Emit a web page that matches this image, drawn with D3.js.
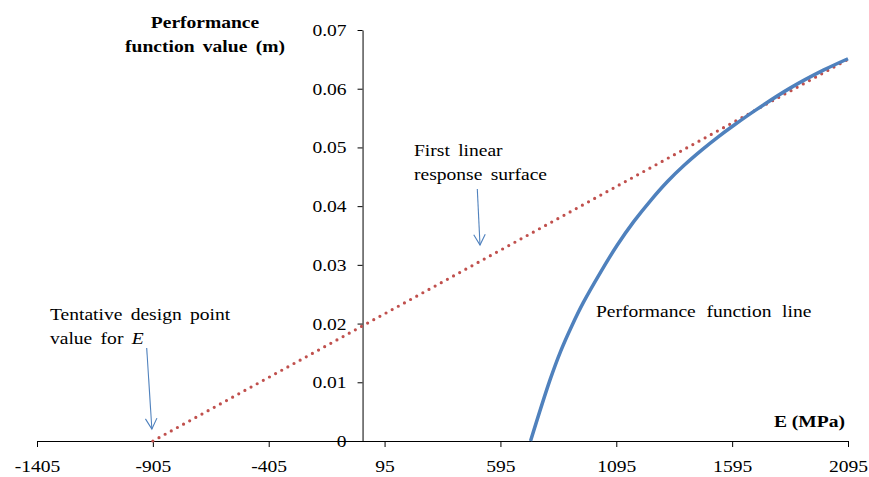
<!DOCTYPE html>
<html>
<head>
<meta charset="utf-8">
<script src="https://cdn.jsdelivr.net/npm/d3@7/dist/d3.min.js"></script>
<style>
  html, body { margin: 0; padding: 0; background: #fff; }
</style>
</head>
<body>
<svg id="chart" width="869" height="477"></svg>
<script>
// Tick values for both axes
const xTicks = [-1405, -905, -405, 95, 595, 1095, 1595, 2095];
const yTicks = [0, 0.01, 0.02, 0.03, 0.04, 0.05, 0.06, 0.07];

// Performance function g(E)
const perfE = [725, 809, 856, 903, 953, 1025, 1098, 1171, 1244, 1316, 1389, 1462, 1535, 1607, 1698, 1845, 1991, 2095];
const perfG = [0, 0.0104, 0.0154, 0.0196, 0.0236, 0.0286, 0.0333, 0.0374, 0.0410, 0.0442, 0.0470, 0.0495, 0.0518, 0.0539, 0.0564, 0.0601, 0.0632, 0.0651];

// First linear response surface
const linE = [-905, 2095];
const linG = [0, 0.065];

const FONT = "Liberation Serif";
const SX = 1.15; // horizontal text stretch

const svg = d3.select("#chart");
const x = d3.scaleLinear().domain([-1405, 2095]).range([37, 848]);
const y = d3.scaleLinear().domain([0, 0.07]).range([441, 30]);

// Axes
const xAxis = d3.axisBottom(x).tickValues(xTicks).tickSize(6).tickSizeOuter(0).tickPadding(13)
  .tickFormat(d => String(d));
const gx = svg.append("g").attr("transform", `translate(0,${y(0)})`).call(xAxis);
gx.attr("font-family", FONT).attr("font-size", 17);
gx.select(".domain").attr("stroke", "#000");
gx.selectAll(".tick text").attr("transform", `scale(${SX},1)`);

const yAxis = d3.axisLeft(y).tickValues(yTicks).tickSize(5).tickSizeOuter(0).tickPadding(11)
  .tickFormat(d => d === 0 ? "0" : d3.format(".2f")(d));
const gy = svg.append("g").attr("transform", `translate(${x(0)},0)`).call(yAxis);
gy.attr("font-family", FONT).attr("font-size", 17);
gy.select(".domain").attr("stroke", "#000");
gy.selectAll(".tick text").attr("x", -16 / SX).attr("transform", `scale(${SX},1)`);

// Series
svg.append("path")
  .datum(linE.map((e, i) => [e, linG[i]]))
  .attr("d", d3.line().x(d => x(d[0])).y(d => y(d[1])))
  .attr("fill", "none")
  .attr("stroke", "#C0504D")
  .attr("stroke-width", 3.2)
  .attr("stroke-linecap", "round")
  .attr("stroke-dasharray", "0 7");

svg.append("path")
  .datum(perfE.map((e, i) => [e, perfG[i]]))
  .attr("d", d3.line().x(d => x(d[0])).y(d => y(d[1])).curve(d3.curveCatmullRom.alpha(0.5)))
  .attr("fill", "none")
  .attr("stroke", "#4F81BD")
  .attr("stroke-width", 3.5);

// Text helper: stretched serif text anchored at (tx, ty)
function label(tx, ty, str, opts = {}) {
  const t = svg.append("text")
    .attr("transform", `translate(${tx},${ty}) scale(${SX},1)`)
    .attr("font-family", FONT)
    .attr("font-size", opts.size || 17)
    .attr("font-weight", opts.bold ? "bold" : "normal")
    .attr("text-anchor", opts.anchor || "start")
    .attr("word-spacing", opts.ws || 0)
    .attr("fill", "#000");
  return t.text(str);
}

// Axis titles
label(205, 28, "Performance", { bold: true, anchor: "middle" });
label(205, 52, "function value (m)", { bold: true, anchor: "middle", ws: 3 });
label(845, 427, "E (MPa)", { bold: true, anchor: "end" });

// Annotations
label(414, 156, "First linear", { ws: 3 });
label(414, 180, "response surface", { ws: 3 });
label(50, 320, "Tentative design point", { ws: 3 });
const v = label(50, 344, "value for ", { ws: 3 });
v.append("tspan").attr("font-style", "italic").text("E");
label(596, 317, "Performance function line", { ws: 5 });

// Annotation arrows
function arrow(x1, y1, x2, y2) {
  const g = svg.append("g").attr("stroke", "#4F81BD").attr("stroke-width", 1.1).attr("fill", "none");
  g.append("line").attr("x1", x1).attr("y1", y1).attr("x2", x2).attr("y2", y2);
  const ang = Math.atan2(y2 - y1, x2 - x1);
  const len = 12, spread = 0.5;
  const p1 = [x2 - len * Math.cos(ang - spread), y2 - len * Math.sin(ang - spread)];
  const p2 = [x2 - len * Math.cos(ang + spread), y2 - len * Math.sin(ang + spread)];
  g.append("path").attr("d", `M${p1[0]},${p1[1]}L${x2},${y2}L${p2[0]},${p2[1]}`);
}
arrow(146.7, 348, x(-905) - 1, y(0) - 12);
arrow(477.3, 189, 480, 245);
</script>
</body>
</html>
